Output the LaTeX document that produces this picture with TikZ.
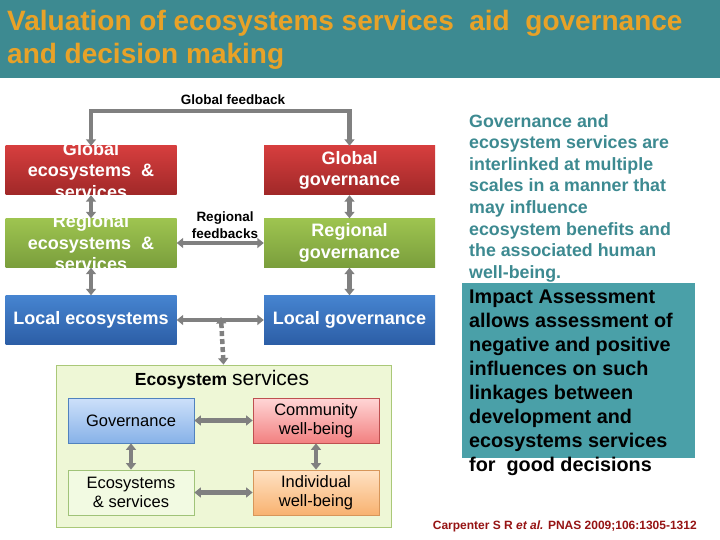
\documentclass[tikz,border=0pt]{standalone}
\usepackage{fontspec}
\setmainfont{Liberation Sans}
\usetikzlibrary{arrows.meta}
\definecolor{teal1}{RGB}{61,138,145}
\definecolor{teal2}{RGB}{74,160,168}
\definecolor{ttl}{RGB}{232,162,40}
\definecolor{arr}{RGB}{128,128,128}
\definecolor{redT}{RGB}{214,62,62}
\definecolor{redB}{RGB}{160,40,40}
\definecolor{grnT}{RGB}{158,196,80}
\definecolor{grnB}{RGB}{122,158,60}
\definecolor{bluT}{RGB}{70,132,208}
\definecolor{bluB}{RGB}{44,94,166}
\definecolor{cite}{RGB}{150,20,20}
\tikzset{
  bigbox/.style={minimum width=171pt, minimum height=49pt, inner sep=0pt},
  redbox/.style={bigbox, top color=redT, bottom color=redB},
  grnbox/.style={bigbox, top color=grnT, bottom color=grnB},
  blubox/.style={bigbox, top color=bluT, bottom color=bluB},
  boxtext/.style={inner sep=0pt, align=center, text=white,
    font=\fontsize{18}{21.5}\selectfont\bfseries},
  smallbox/.style={minimum width=126pt, minimum height=45pt, inner sep=0pt, align=center,
    font=\fontsize{16.5}{19.5}\selectfont, draw, line width=0.8pt},
  darr/.style={draw=arr, line width=4.5pt, {Triangle[width=10pt,length=6.5pt]}-{Triangle[width=10pt,length=6.5pt]}},
  sarr/.style={draw=arr, line width=4.5pt, -{Triangle[width=10pt,length=6.5pt]}},
  lbl/.style={font=\fontsize{13.5}{17}\selectfont\bfseries, align=center, inner sep=0pt},
}
\begin{document}
\begin{tikzpicture}[x=1pt,y=-1pt]
\useasboundingbox (0,0) rectangle (720,540);
\fill[white] (0,0) rectangle (720,540);
% title bar
\fill[teal1] (0,0) rectangle (720,78);
\node[anchor=north west, inner sep=0pt, align=left, text=ttl,
  font=\fontsize{28}{33}\selectfont\bfseries] (title) at (7,10)
  {Valuation of ecosystems services\ \ aid\ \ governance\\and decision making};

% main boxes
\node[redbox] (ge) at (91,170.5) {};
\node[redbox] (gg) at (349.5,170.5) {};
\node[grnbox] (re) at (91,243) {};
\node[grnbox] (rg) at (349.5,243) {};
\node[blubox] (le) at (91,320) {};
\node[blubox] (lg) at (349.5,320) {};
\node[boxtext] (get) at (ge.center) {Global\\ecosystems\ \ \&\\services};
\node[boxtext] (ggt) at (gg.center) {Global\\governance};
\node[boxtext] (ret) at (re.center) {Regional\\ecosystems\ \ \&\\services};
\node[boxtext] (rgt) at (rg.center) {Regional\\governance};
\node[boxtext] (let) at (le.center) {Local ecosystems};
\node[boxtext] (lgt) at (lg.center) {Local governance};

% global feedback
\coordinate (gf1) at (91,111);
\coordinate (gf2) at (349.5,111);
\draw[sarr, line join=miter] (gf1) -- (gf2) -- (gg.north);
\draw[sarr, line join=miter] (gf2) -- (gf1) -- (ge.north);
\node[lbl] (gfl) at (233,100) {Global feedback};

% vertical arrows
\draw[darr] (ge.south) -- (re.north);
\draw[darr] (re.south) -- (le.north);
\draw[darr] (gg.south) -- (rg.north);
\draw[darr] (rg.south) -- (lg.north);

% regional feedbacks
\draw[darr] (re.east) -- (rg.west);
\node[lbl] (rfl) at (225,225.5) {Regional\\feedbacks};

% local arrow
\draw[darr] (le.east) -- (lg.west);

% ecosystem services outer box
\node[draw={rgb,255:red,170;green,200;blue,120}, fill={rgb,255:red,238;green,247;blue,214},
  line width=0.8pt, minimum width=335pt, minimum height=162pt, inner sep=0pt] (es) at (223.5,446) {};
\node[inner sep=0pt] (esl) at (222,380) {\fontsize{17.5}{20}\selectfont\bfseries Ecosystem \fontsize{21}{24}\selectfont\mdseries services};
\coordinate (mid) at (221,321);
\draw[draw=arr, line width=4.5pt, dash pattern=on 5pt off 3pt,
  {Triangle[width=10pt,length=6.5pt]}-{Triangle[width=10pt,length=6.5pt]}] ([yshift=4pt]mid) -- (es.north);

% inner boxes
\node[smallbox, draw={rgb,255:red,80;green,130;blue,190}, top color={rgb,255:red,205;green,224;blue,250}, bottom color={rgb,255:red,135;green,178;blue,232}] (gov) at (131,420.5) {Governance};
\node[smallbox, draw={rgb,255:red,190;green,80;blue,80}, top color={rgb,255:red,255;green,214;blue,214}, bottom color={rgb,255:red,242;green,128;blue,128}] (com) at (316,420.5) {Community\\well-being};
\node[smallbox, draw={rgb,255:red,160;green,195;blue,120}, fill={rgb,255:red,242;green,250;blue,226}] (ecs) at (131,492.5) {Ecosystems\\\& services};
\node[smallbox, draw={rgb,255:red,215;green,150;blue,90}, top color={rgb,255:red,255;green,226;blue,196}, bottom color={rgb,255:red,248;green,178;blue,112}] (ind) at (316,492.5) {Individual\\well-being};
\draw[darr] (gov.east) -- (com.west);
\draw[darr] (ecs.east) -- (ind.west);
\draw[darr] (gov.south) -- (ecs.north);
\draw[darr] (com.south) -- (ind.north);

% right text
\node[anchor=north west, inner sep=0pt, align=left, text=teal1,
  font=\fontsize{17.8}{21.6}\selectfont\bfseries] (rt) at (469,114)
  {Governance and\\ecosystem services are\\interlinked at multiple\\scales in a manner that\\may influence\\ecosystem benefits and\\the associated human\\well-being.};
\fill[teal2] (462,283) rectangle (695,458);
\node[anchor=north west, inner sep=0pt, align=left, text=black,
  font=\fontsize{19.8}{24}\selectfont\bfseries] (ia) at (469,290)
  {Impact Assessment\\allows assessment of\\negative and positive\\influences on such\\linkages between\\development and\\ecosystems services\\for\ \ good decisions};
\node[anchor=east, inner sep=0pt, text=cite, font=\fontsize{12}{14}\selectfont\bfseries] (ct) at (697,526)
  {Carpenter S R \textit{et al.} PNAS 2009;106:1305-1312};
\end{tikzpicture}
\end{document}
